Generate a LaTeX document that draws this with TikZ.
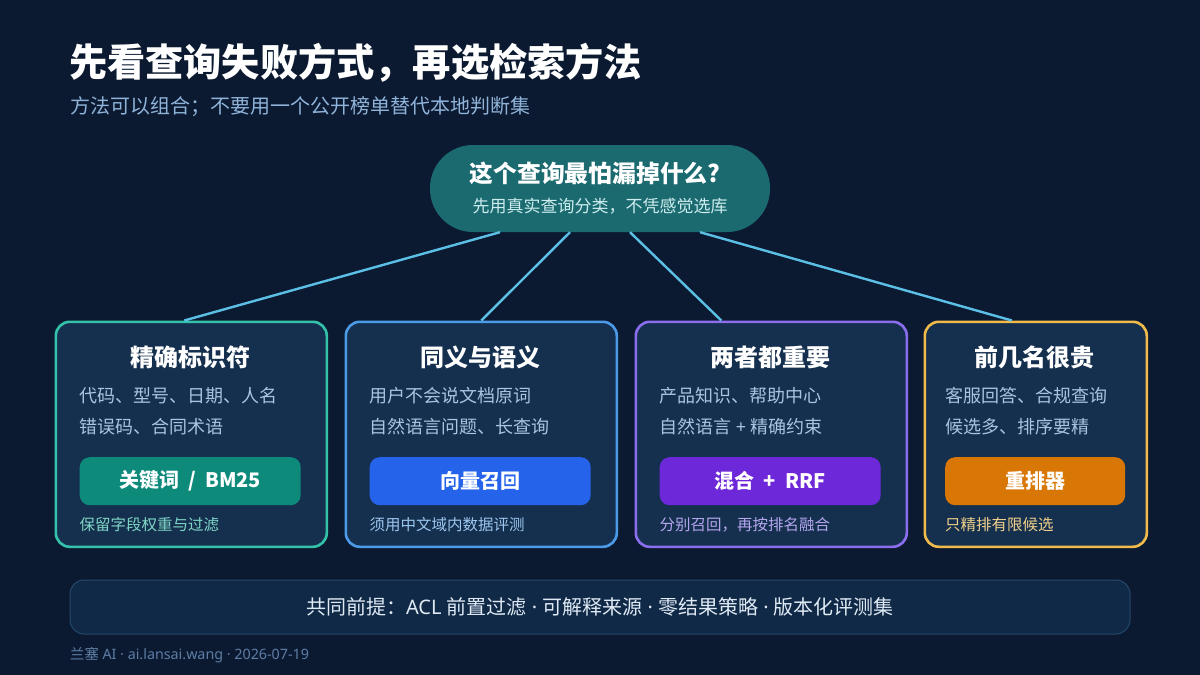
\documentclass[tikz,border=0pt]{standalone}
\usepackage{fontspec}
\setmainfont{Noto Sans CJK SC}
\newfontfamily\lat{Noto Sans}
\newcommand{\mdot}{{\lat\ ·\ }}
\usetikzlibrary{calc}
\definecolor{bg}{HTML}{0B1A31}
\definecolor{cardfill}{HTML}{15304F}
\definecolor{subtle}{HTML}{8FB3D9}
\definecolor{body}{HTML}{A9C4E0}
\definecolor{pill}{HTML}{1B6A70}
\definecolor{pilltxt}{HTML}{CDEDEE}
\definecolor{conn}{HTML}{5BBFE6}
\definecolor{bTeal}{HTML}{34C3AA}
\definecolor{bBlue}{HTML}{4C9BE8}
\definecolor{bPurple}{HTML}{8B6EEE}
\definecolor{bAmber}{HTML}{F1BB4C}
\definecolor{fTeal}{HTML}{0E8A7B}
\definecolor{fBlue}{HTML}{2563EB}
\definecolor{fPurple}{HTML}{6D28D9}
\definecolor{fAmber}{HTML}{D97706}
\definecolor{nTeal}{HTML}{7FD6C6}
\definecolor{nBlue}{HTML}{9CC6EE}
\definecolor{nPurple}{HTML}{B5A6EE}
\definecolor{nAmber}{HTML}{EFD08A}
\definecolor{barfill}{HTML}{0F2946}
\definecolor{barline}{HTML}{25476C}
\definecolor{bartxt}{HTML}{E0EAF5}
\definecolor{foot}{HTML}{5E7EA6}
\tikzset{
  cardbox/.style={draw=#1, line width=2.6pt, fill=cardfill, rounded corners=14pt, inner sep=0pt, anchor=north west},
  btnbox/.style={fill=#1, rounded corners=10pt, inner sep=0pt, anchor=north west, minimum height=48pt, text=white, font=\bfseries\fontsize{20}{23}\selectfont},
  cardtitle/.style={text=white, font=\bfseries\fontsize{24}{28}\selectfont, inner sep=0pt},
  cardbody/.style={text=body, font=\fontsize{18}{21}\selectfont, inner sep=0pt, anchor=west},
  cardnote/.style={text=#1, font=\fontsize{15.5}{18}\selectfont, inner sep=0pt, anchor=west},
  connline/.style={draw=conn, line width=2.4pt},
}
\begin{document}
\begin{tikzpicture}[x=1pt,y=-1pt]
\fill[bg] (0,0) rectangle (1200,675);
\useasboundingbox (0,0) rectangle (1200,675);
% title
\node[anchor=west, inner sep=0pt, text=white, font=\bfseries\fontsize{38.2}{44}\selectfont] (title) at (69,63) {先看查询失败方式，再选检索方法};
\node[anchor=west, inner sep=0pt, text=subtle, font=\fontsize{20}{24}\selectfont] (sub) at (70,107) {方法可以组合；不要用一个公开榜单替代本地判断集};
% top pill
\node[fill=pill, rounded corners=43pt, minimum width=340pt, minimum height=87pt, inner sep=0pt] (q) at (600,188.5) {};
\node[text=white, font=\bfseries\fontsize{23.8}{28}\selectfont, inner sep=0pt] (qt) at (595,173) {这个查询最怕漏掉什么?};
\node[text=pilltxt, font=\fontsize{17}{20}\selectfont, inner sep=0pt] (qs) at (600,206) {先用真实查询分类，不凭感觉选库};
% cards
\node[cardbox=bTeal, minimum width=271pt, minimum height=225pt] (c1) at (54.5,320.5) {};
\node[cardbox=bBlue, minimum width=271pt, minimum height=225pt] (c2) at (344.5,320.5) {};
\node[cardbox=bPurple, minimum width=271pt, minimum height=225pt] (c3) at (634.5,320.5) {};
\node[cardbox=bAmber, minimum width=222pt, minimum height=225pt] (c4) at (923.5,320.5) {};
% connectors
\draw[connline] ([xshift=-100pt]q.south) -- ([xshift=-7pt]c1.north);
\draw[connline] ([xshift=-30pt]q.south) -- ([xshift=0pt]c2.north);
\draw[connline] ([xshift=30pt]q.south) -- ([xshift=-50pt]c3.north);
\draw[connline] ([xshift=100pt]q.south) -- ([xshift=-24pt]c4.north);
% card 1
\node[cardtitle] (t1) at (190,357) {精确标识符};
\node[cardbody] (b1a) at (79,396) {代码、型号、日期、人名};
\node[cardbody] (b1b) at (79,427) {错误码、合同术语};
\node[btnbox=fTeal, minimum width=221pt] (k1) at (79.5,457) {关键词\hspace{9pt}/\hspace{9pt}BM25};
\node[cardnote=nTeal] (n1) at (79.5,525) {保留字段权重与过滤};
% card 2
\node[cardtitle] (t2) at (480,357) {同义与语义};
\node[cardbody] (b2a) at (369,396) {用户不会说文档原词};
\node[cardbody] (b2b) at (369,427) {自然语言问题、长查询};
\node[btnbox=fBlue, minimum width=221pt] (k2) at (369.5,457) {向量召回};
\node[cardnote=nBlue] (n2) at (369.5,525) {须用中文域内数据评测};
% card 3
\node[cardtitle] (t3) at (770,357) {两者都重要};
\node[cardbody] (b3a) at (659,396) {产品知识、帮助中心};
\node[cardbody] (b3b) at (659,427) {自然语言{\lat\ + }精确约束};
\node[btnbox=fPurple, minimum width=221pt] (k3) at (659.5,457) {混合\hspace{9pt}+\hspace{9pt}RRF};
\node[cardnote=nPurple] (n3) at (659.5,525) {分别召回，再按排名融合};
% card 4
\node[cardtitle] (t4) at (1034,357) {前几名很贵};
\node[cardbody] (b4a) at (945,396) {客服回答、合规查询};
\node[cardbody] (b4b) at (945,427) {候选多、排序要精};
\node[btnbox=fAmber, minimum width=180pt] (k4) at (945,457) {重排器};
\node[cardnote=nAmber] (n4) at (945,525) {只精排有限候选};
% bottom bar
\node[draw=barline, line width=1pt, fill=barfill, rounded corners=14pt, minimum width=1060pt, minimum height=54pt, inner sep=0pt] (bar) at (600,607) {};
\node[text=bartxt, font=\fontsize{20}{24}\selectfont, inner sep=0pt] (bart) at (600,607) {共同前提：{\lat ACL }前置过滤\mdot 可解释来源\mdot 零结果策略\mdot 版本化评测集};
% footer
\node[anchor=west, text=foot, font=\fontsize{14.3}{17}\selectfont, inner sep=0pt] (ft) at (70,655) {兰塞{\lat\ AI\ ·\ ai.lansai.wang\ ·\ 2026-07-19}};
\end{tikzpicture}
\end{document}
